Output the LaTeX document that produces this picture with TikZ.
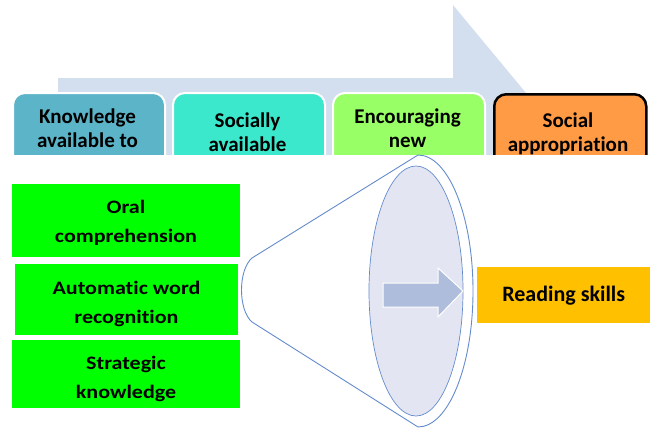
\documentclass[tikz,border=0pt]{standalone}
\usepackage{fontspec}
\setmainfont{Carlito}[Ligatures={NoCommon,NoContextual}]
\newfontfamily\widefont[FakeStretch=1.16,Ligatures={NoCommon,NoContextual}]{Carlito}
\definecolor{arrowbg}{RGB}{211,223,238}
\definecolor{cA}{RGB}{91,180,200}
\definecolor{cB}{RGB}{60,232,204}
\definecolor{cC}{RGB}{153,255,102}
\definecolor{cD}{RGB}{255,154,69}
\definecolor{greenA}{RGB}{0,255,0}
\definecolor{readcol}{RGB}{255,192,0}
\definecolor{conecol}{RGB}{100,140,205}
\definecolor{innerfill}{RGB}{227,230,242}
\definecolor{arrowfill}{RGB}{175,189,220}
\begin{document}
\begin{tikzpicture}[x=1pt,y=-1pt]
\tikzset{
  topbox/.style={draw=white, line width=2pt, rounded corners=12pt, anchor=north west,
    minimum width=152pt, minimum height=100pt, inner sep=0pt},
  toptext/.style={font=\bfseries\fontsize{21}{24}\selectfont, align=center, inner sep=0pt},
  greenbox/.style={fill=greenA, draw=none, anchor=north west, inner sep=0pt},
  greentext/.style={font=\widefont\bfseries\fontsize{19}{29}\selectfont, align=center, inner sep=0pt},
}
\useasboundingbox (0,0) rectangle (652,428);
% background arrow
\fill[arrowbg] (58,78) -- (453,78) -- (453,5) -- (565,140) -- (453,275) -- (453,200) -- (58,200) -- cycle;
% top boxes
\node[topbox, fill=cA] (b1) at (12,92) {};
\node[topbox, fill=cB] (b2) at (172,92) {};
\node[topbox, fill=cC] (b3) at (332,92) {};
\node[topbox, fill=cD, draw=black, line width=2.5pt] (b4) at (493,93) {};
\node[toptext] (t1) at (87.5,128) {Knowledge\\available to};
\node[toptext] (t2) at (247.5,132.5) {Socially\\available};
\node[toptext] (t3) at (407.5,128.5) {Encouraging\\new};
\node[toptext] (t4) at (568,134) {Social\\appropriation};
% white cover
\fill[white] (14,155) rectangle (652,428);
% green boxes
\node[greenbox, minimum width=228pt, minimum height=73pt] (g1) at (12,184) {};
\node[greenbox, minimum width=223pt, minimum height=71pt] (g2) at (15,264) {};
\node[greenbox, minimum width=228pt, minimum height=68pt] (g3) at (12,340) {};
\node[greentext] (g1t) at (126,223) {Oral\\comprehension};
\node[greentext] (g2t) at (126.5,304) {Automatic word\\recognition};
\begin{scope}
\clip (12,340) rectangle (240,408);
\node[greentext] (g3t) at (126,379) {Strategic\\knowledge};
\end{scope}
% cone
\draw[conecol, line width=0.9pt, fill=white] (418,155) -- (252,258)
  .. controls (238,270) and (238,310) .. (252,322) -- (418,427)
  arc[start angle=-90, end angle=90, x radius=55pt, y radius=136pt] -- cycle;
\draw[conecol, line width=0.7pt, fill=innerfill] (416,291) ellipse[x radius=47pt, y radius=125pt];
\draw[white, line width=1pt, fill=arrowfill] (383,283) -- (438,283) -- (438,268) -- (463,291)
  -- (438,317) -- (438,307) -- (383,307) -- cycle;
% result
\node[fill=readcol, anchor=north west, minimum width=173pt, minimum height=56pt, inner sep=0pt,
  font=\bfseries\fontsize{22}{24}\selectfont] (rs) at (477,267) {Reading skills};
\end{tikzpicture}
\end{document}
